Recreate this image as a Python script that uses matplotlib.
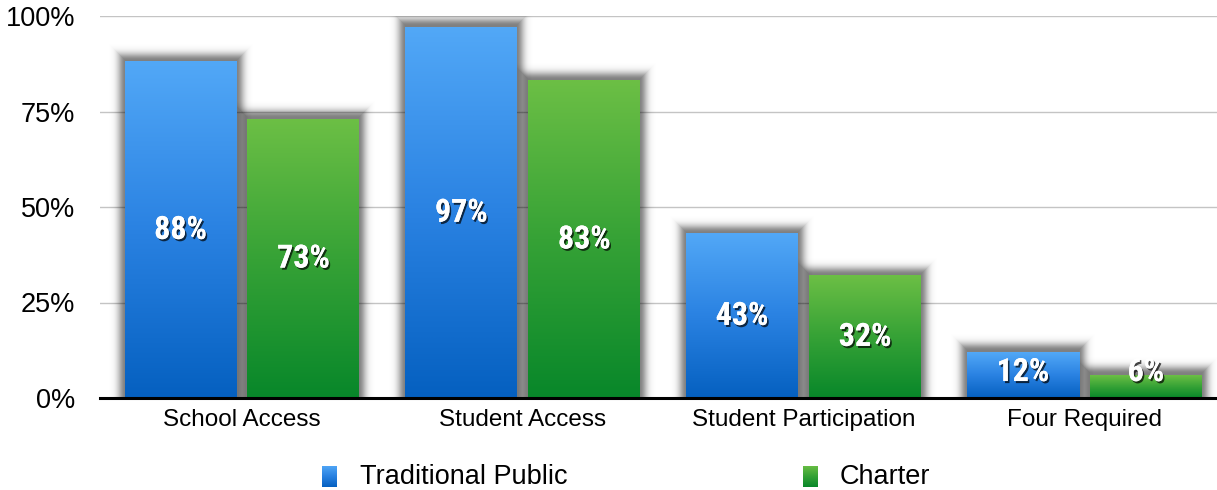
import numpy as np
import matplotlib
matplotlib.use("Agg")
import matplotlib.pyplot as plt
from matplotlib.patches import Rectangle
from matplotlib.colors import LinearSegmentedColormap
import matplotlib.patheffects as pe

categories = ["School Access", "Student Access", "Student Participation", "Four Required"]
traditional = [88, 97, 43, 12]
charter = [73, 83, 32, 6]
series_names = ["Traditional Public", "Charter"]
yticks = [0, 25, 50, 75, 100]
ytick_labels = ["0%", "25%", "50%", "75%", "100%"]

W, H = 1217, 490
fig = plt.figure(figsize=(W / 100, H / 100), dpi=100)
ax = fig.add_axes([100 / W, 1 - 398 / H, 1 - 100 / W, (398 - 16) / H])
group_px = 280.8
x_left = (100 - 242) / group_px
x_right = (W - 242) / group_px
ax.set_xlim(x_left, x_right)
ax.set_ylim(0, 100)

px_x = 1 / group_px
px_y = 100 / 382

blue_cmap = LinearSegmentedColormap.from_list("b", ["#0560C0", "#2A82E2", "#52A8F7"])
green_cmap = LinearSegmentedColormap.from_list("g", ["#08872A", "#36A236", "#6CBF45"])

bw = 112 / group_px
offsets = [-0.219, 0.219]
grad = np.linspace(0, 1, 256).reshape(-1, 1)

# soft shadow layer opacities (gaussian falloff)
K = 20
dist = np.arange(K + 2)
target = 0.48 * np.exp(-(dist / 7.5) ** 2)
layer_alpha = [1 - (1 - target[d]) / (1 - target[d + 1]) for d in range(K + 1)]

for yv in yticks[1:]:
    ax.axhline(yv, color="#C4C4C4", lw=1.0, zorder=0)

for s, (vals, cmap) in enumerate([(traditional, blue_cmap), (charter, green_cmap)]):
    for i, v in enumerate(vals):
        x0 = i + offsets[s] - bw / 2
        x1 = x0 + bw
        for k in range(K, -1, -1):
            a = layer_alpha[k]
            if a <= 0:
                continue
            ax.add_patch(Rectangle((x0 - k * px_x, 0), bw + 2 * k * px_x,
                                   v + (k + 2) * px_y, color="black",
                                   alpha=a, lw=0, zorder=1, antialiased=False))
        ax.imshow(grad, extent=[x0, x1, 0, v], origin="lower", aspect="auto",
                  cmap=cmap, zorder=2, interpolation="bilinear")
        ly = max(v / 2, 6.8)
        ax.text(i + offsets[s], ly, f"{v}%", ha="center", va="center", color="white",
                fontsize=23, fontweight="bold",
                family=["Roboto Condensed", "Liberation Sans"], zorder=5,
                path_effects=[pe.withSimplePatchShadow(offset=(1.2, -1.5), alpha=0.7,
                                                       shadow_rgbFace="#000000"),
                              pe.Normal()])

ax.set_xlim(x_left, x_right)
ax.set_ylim(0, 100)
ax.axhline(0, color="black", lw=2.2, zorder=6, clip_on=False)

for sp in ax.spines.values():
    sp.set_visible(False)
ax.set_yticks(yticks)
ax.set_yticklabels(ytick_labels, fontsize=19.5, family="Liberation Sans")
ax.set_xticks(range(len(categories)))
ax.set_xticklabels(categories, fontsize=17.5, family="Liberation Sans")
ax.tick_params(axis="both", length=0)
ax.tick_params(axis="y", pad=18)
ax.tick_params(axis="x", pad=8)

# legend
for (sx, tx, name, cmap) in [(322, 360, series_names[0], blue_cmap),
                             (803, 840, series_names[1], green_cmap)]:
    lax = fig.add_axes([sx / W, 1 - 487 / H, 15 / W, 21 / H])
    lax.imshow(grad, origin="lower", aspect="auto", cmap=cmap, extent=[0, 1, 0, 1])
    lax.axis("off")
    fig.text(tx / W, 1 - 477 / H, name, fontsize=19.5, family="Liberation Sans",
             va="center", ha="left")

fig.savefig("out.png", dpi=100)
